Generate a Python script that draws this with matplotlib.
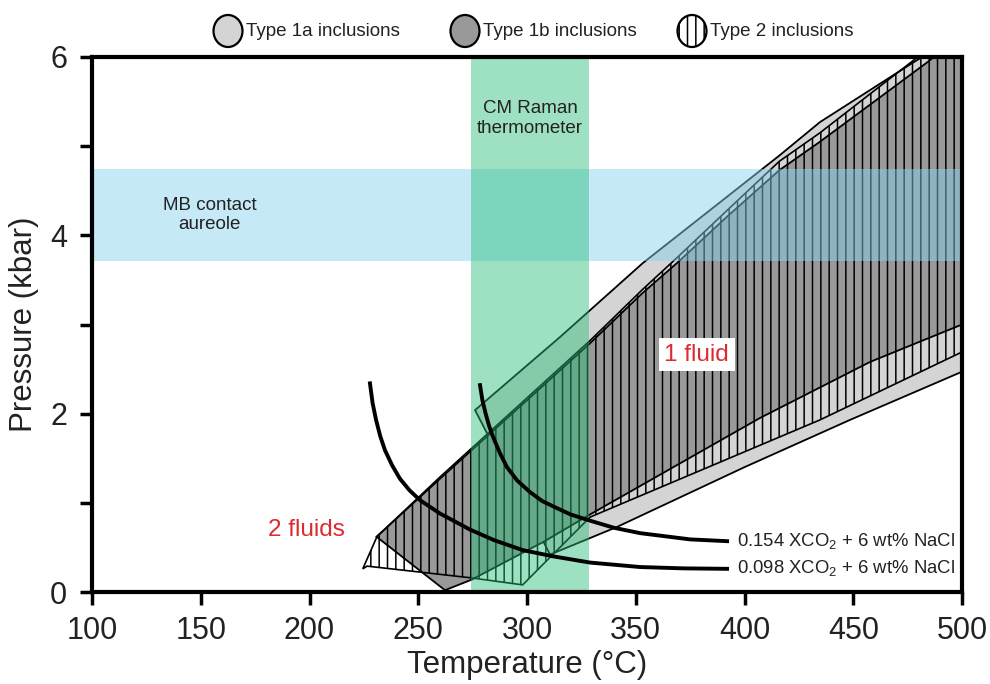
import matplotlib as mpl
mpl.use('Agg')
import matplotlib.pyplot as plt
from matplotlib.patches import Polygon, Ellipse
import numpy as np

plt.rcParams['font.family'] = ['Liberation Sans', 'DejaVu Sans']
plt.rcParams['hatch.linewidth'] = 1.1

# type 1a inclusions, light grey field (T in deg C, P in kbar)
t1a_T = [276.1, 315.2, 353.3, 416.3, 434.7, 477.0, 495.0, 515.0, 515.0, 499.0, 448.5, 400.0, 341.4, 310.6]
t1a_P = [2.04, 2.86, 3.69, 4.90, 5.27, 5.93, 6.20, 6.50, 2.62, 2.46, 1.93, 1.40, 0.73, 0.42]

# type 1b inclusions, dark grey field
t1b_T = [230.8, 260.0, 329.0, 353.0, 369.0, 392.0, 416.0, 434.7, 484.0, 500.0, 515.0,
         515.0, 499.0, 457.7, 407.0, 329.0, 307.4, 274.7, 262.3]
t1b_P = [0.62, 1.27, 2.79, 3.35, 3.69, 4.21, 4.73, 5.05, 5.94, 6.25, 6.50,
         3.15, 2.99, 2.58, 1.95, 0.87, 0.56, 0.14, 0.02]

# type 2 inclusions, hatched field
t2_T = [224.5, 231.0, 260.0, 329.0, 353.0, 369.0, 392.0, 416.0, 434.7, 477.0, 495.0, 515.0,
        515.0, 499.0, 434.7, 329.0, 298.0, 273.8, 226.5]
t2_P = [0.26, 0.62, 1.29, 2.82, 3.39, 3.75, 4.28, 4.83, 5.15, 5.95, 6.30, 6.60,
        2.85, 2.68, 1.93, 0.84, 0.08, 0.16, 0.29]

# isochores
iso098_T = [227.8, 229.0, 230.6, 232.5, 234.7, 238.0, 241.6, 246.0, 250.8, 260.0, 273.8,
            285.0, 298.0, 312.0, 329.0, 352.0, 372.0, 392.0]
iso098_P = [2.34, 2.12, 1.93, 1.75, 1.59, 1.42, 1.27, 1.14, 1.03, 0.88, 0.70,
            0.58, 0.47, 0.40, 0.33, 0.28, 0.265, 0.26]
iso154_T = [278.4, 279.5, 281.0, 282.6, 284.4, 287.5, 290.8, 295.5, 301.4, 307.0, 313.8,
            320.0, 329.0, 340.0, 352.0, 375.0, 392.0]
iso154_P = [2.32, 2.15, 2.00, 1.86, 1.74, 1.56, 1.40, 1.25, 1.12, 1.02, 0.94,
            0.87, 0.80, 0.72, 0.66, 0.59, 0.57]

aureole_P = (3.71, 4.74)     # MB contact aureole
raman_T = (274.3, 328.5)     # CM Raman thermometer

x_ticks = [100, 150, 200, 250, 300, 350, 400, 450, 500]
y_ticks = [0, 1, 2, 3, 4, 5, 6]
y_labels = ['0', '', '2', '', '4', '', '6']

fig = plt.figure(figsize=(9.9, 6.84), dpi=100)
ax = fig.add_axes([92/990, 92/684, 870/990, 535/684])

ax.add_patch(Polygon(np.column_stack([t1a_T, t1a_P]), closed=True, fc='#d4d4d4', ec='k', lw=1.3, zorder=2))
ax.add_patch(Polygon(np.column_stack([t1b_T, t1b_P]), closed=True, fc='#999999', ec='k', lw=1.3, zorder=3))
ax.add_patch(Polygon(np.column_stack([t2_T, t2_P]), closed=True, fc='none', ec='k', lw=1.2,
                     hatch='||', zorder=4))

ax.axhspan(*aureole_P, color='#88d1f0', alpha=0.48, lw=0, zorder=5)
ax.axvspan(*raman_T, color='#28be78', alpha=0.45, lw=0, zorder=6)

ax.plot(iso098_T, iso098_P, color='k', lw=2.8, zorder=7)
ax.plot(iso154_T, iso154_P, color='k', lw=2.8, zorder=7)

ax.text(396.5, 0.57, '0.154 XCO$_\\mathregular{2}$ + 6 wt% NaCl', va='center',
        fontsize=13.3, color='#222222', zorder=8)
ax.text(396.5, 0.27, '0.098 XCO$_\\mathregular{2}$ + 6 wt% NaCl', va='center',
        fontsize=13.3, color='#222222', zorder=8)

ax.text(154, 4.23, 'MB contact\naureole', ha='center', va='center', fontsize=13.5, color='#222222', zorder=8)
ax.text(301.4, 5.31, 'CM Raman\nthermometer', ha='center', va='center', fontsize=13.5, color='#222222', zorder=8)
ax.text(378, 2.66, '1 fluid', ha='center', va='center', fontsize=17.5, color='#dd2a2f', zorder=8,
        bbox=dict(fc='white', ec='none', pad=4))
ax.text(198.4, 0.70, '2 fluids', ha='center', va='center', fontsize=17.5, color='#dd2a2f', zorder=8)

ax.set_xlim(100, 500)
ax.set_ylim(0, 6)
ax.set_xticks(x_ticks)
ax.set_yticks(y_ticks)
ax.set_yticklabels(y_labels)
for s in ax.spines.values():
    s.set_linewidth(3)
    s.set_zorder(10)
ax.tick_params(direction='out', length=9, width=2.5, labelsize=22, labelcolor='#222222')
ax.tick_params(axis='x', pad=8)
ax.tick_params(axis='y', pad=9)
ax.set_xlabel('Temperature (°C)', fontsize=22.5, color='#222222', labelpad=3)
ax.set_ylabel('Pressure (kbar)', fontsize=22.5, color='#222222', labelpad=8)

# legend row above the axes
leg_x = [228, 465, 692]
leg_labels = ['Type 1a inclusions', 'Type 1b inclusions', 'Type 2 inclusions']
leg_fc = ['#d4d4d4', '#999999', 'white']
leg_hatch = [None, None, '||']
for x, lab, fc, h in zip(leg_x, leg_labels, leg_fc, leg_hatch):
    fig.add_artist(Ellipse((x/990, 1 - 31/684), 29/990, 32/684, transform=fig.transFigure,
                           fc=fc, ec='k', lw=1.6, hatch=h))
    fig.text((x + 18)/990, 1 - 31/684, lab, va='center', fontsize=13.5, color='#222222')

fig.savefig('out.png', dpi=100)
